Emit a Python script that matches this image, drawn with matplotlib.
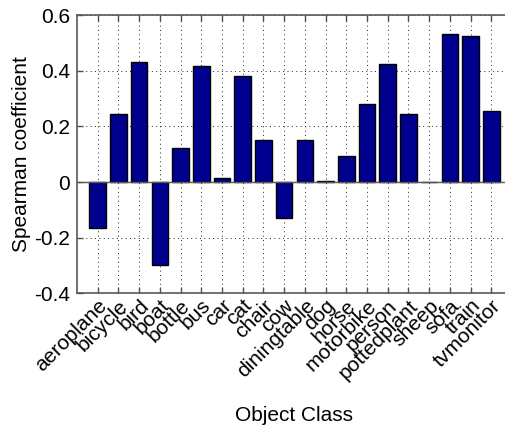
import matplotlib

matplotlib.use("Agg")
import matplotlib.pyplot as plt
import numpy as np

CLASSES = [
    "aeroplane", "bicycle", "bird", "boat", "bottle", "bus", "car", "cat",
    "chair", "cow", "diningtable", "dog", "horse", "motorbike", "person",
    "pottedplant", "sheep", "sofa", "train", "tvmonitor",
]
SPEARMAN = [
    -0.166, 0.243, 0.430, -0.298, 0.122, 0.417, 0.016, 0.382,
    0.153, -0.130, 0.153, 0.004, 0.092, 0.281, 0.423,
    0.246, 0.0, 0.531, 0.524, 0.255,
]
Y_TICKS = [-0.4, -0.2, 0, 0.2, 0.4, 0.6]
Y_TICK_LABELS = ["-0.4", "-0.2", "0", "0.2", "0.4", "0.6"]

plt.rcParams["font.family"] = ["Liberation Sans", "DejaVu Sans"]
plt.rcParams["font.size"] = 15

fig = plt.figure(figsize=(5.06, 4.25), dpi=100)
# axes run past the right edge, as in the cropped original
ax = fig.add_axes([77 / 506, 131.7 / 425, 435 / 506, 278.1 / 425])

x = np.arange(1, len(CLASSES) + 1)
ax.bar(x, SPEARMAN, width=0.8, color="#00008f", edgecolor="black",
       linewidth=1.0, zorder=3)
ax.axhline(0, color="0.35", linewidth=1.0, zorder=4)

ax.set_xlim(0, len(CLASSES) + 1)
ax.set_ylim(-0.4, 0.6)
ax.set_yticks(Y_TICKS, Y_TICK_LABELS)
ax.set_xticks(x)
ax.set_xticklabels(CLASSES, rotation=45, ha="right", va="top",
                   rotation_mode="anchor", fontsize=15)

ax.set_axisbelow(True)
ax.grid(True, color="0.15", linestyle=(0, (1, 3.5)), linewidth=0.7)
ax.tick_params(direction="in", length=4, width=1, color="0.3",
               top=True, right=True)
ax.tick_params(axis="x", pad=2)
ax.tick_params(axis="y", pad=5)
for spine in ax.spines.values():
    spine.set_color("0.35")
    spine.set_linewidth(1.2)

ax.set_ylabel("Spearman coefficient")
ax.set_xlabel("Object Class")
ax.yaxis.set_label_coords(-0.105, 0.5)
ax.xaxis.set_label_coords(0.5, -0.405)

fig.savefig("out.png", dpi=100)
